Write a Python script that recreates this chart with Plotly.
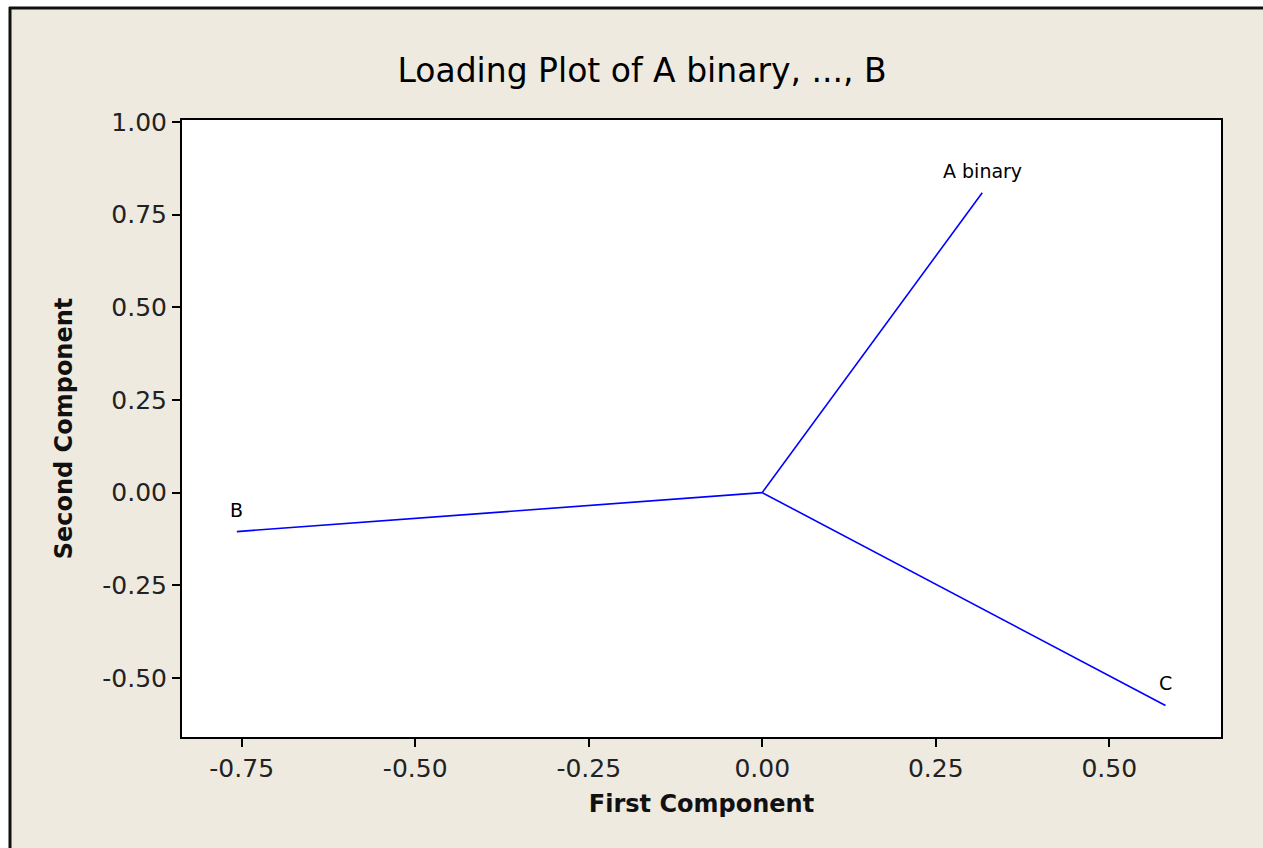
import plotly.graph_objects as go

# Data (loadings)
variables = ["A binary", "B", "C"]
first_component = [0.317, -0.757, 0.581]
second_component = [0.809, -0.105, -0.574]

x_tickvals = [-0.75, -0.50, -0.25, 0.00, 0.25, 0.50]
x_ticktext = ["-0.75", "-0.50", "-0.25", "0.00", "0.25", "0.50"]
y_tickvals = [-0.50, -0.25, 0.00, 0.25, 0.50, 0.75, 1.00]
y_ticktext = ["-0.50", "-0.25", "0.00", "0.25", "0.50", "0.75", "1.00"]

W, H = 1263, 848
L, R, T, B = 182, 42, 120, 111
PW, PH = W - L - R, H - T - B

def px(x):
    return (x - L) / PW

def py(y):
    return (H - B - y) / PH

FONT = "DejaVu Sans"
BEIGE = "#EEEAE0"

fig = go.Figure()
for name, fx, fy in zip(variables, first_component, second_component):
    fig.add_trace(go.Scatter(
        x=[0, fx], y=[0, fy], mode="lines",
        line=dict(color="#0000FF", width=1.6),
        showlegend=False, hoverinfo="skip", name=name,
    ))

annotations = [
    dict(x=fx, y=fy, xref="x", yref="y", text=name, showarrow=False,
         xanchor="center", yanchor="bottom", yshift=9,
         font=dict(family=FONT, size=19, color="black"))
    for name, fx, fy in zip(variables, first_component, second_component)
]

shapes = [
    # white strip on the left
    dict(type="rect", xref="paper", yref="paper", layer="below",
         x0=px(-20), x1=px(10), y0=py(H + 20), y1=py(-20),
         fillcolor="white", line=dict(width=0)),
    # white strip on top
    dict(type="rect", xref="paper", yref="paper", layer="below",
         x0=px(-20), x1=px(W + 20), y0=py(8), y1=py(-20),
         fillcolor="white", line=dict(width=0)),
    # left frame line
    dict(type="line", xref="paper", yref="paper", layer="below",
         x0=px(10), x1=px(10), y0=py(H + 20), y1=py(7),
         line=dict(color="#111111", width=3)),
    # top frame line
    dict(type="line", xref="paper", yref="paper", layer="below",
         x0=px(9), x1=px(W + 20), y0=py(8), y1=py(8),
         line=dict(color="#111111", width=3)),
]

fig.update_layout(
    width=W, height=H,
    margin=dict(l=L, r=R, t=T, b=B, pad=0),
    paper_bgcolor=BEIGE,
    plot_bgcolor="white",
    shapes=shapes,
    annotations=annotations,
    title=dict(text="Loading Plot of A binary, ..., B",
               x=642 / W, xanchor="center", xref="container",
               y=1 - 70 / H, yanchor="middle", yref="container",
               font=dict(family=FONT, size=33, color="black")),
    font=dict(family=FONT, color="black"),
)

fig.update_xaxes(
    range=[-0.836, 0.661], tickvals=x_tickvals, ticktext=x_ticktext,
    ticks="outside", ticklen=8, tickwidth=2, tickcolor="black",
    showline=True, linecolor="black", linewidth=2, mirror=True,
    showgrid=False, zeroline=False,
    tickfont=dict(family=FONT, size=25, color="#222222"),
    title=dict(text="<b>First Component</b>", standoff=13,
               font=dict(family=FONT, size=24, color="#111111")),
)
fig.update_yaxes(
    range=[-0.659, 1.005], tickvals=y_tickvals, ticktext=y_ticktext,
    ticks="outside", ticklen=8, tickwidth=2, tickcolor="black",
    showline=True, linecolor="black", linewidth=2, mirror=True,
    showgrid=False, zeroline=False,
    tickfont=dict(family=FONT, size=25, color="#222222"),
    title=dict(text="<b>Second Component</b>", standoff=23,
               font=dict(family=FONT, size=24, color="#111111")),
)

fig.write_html("out.html")
